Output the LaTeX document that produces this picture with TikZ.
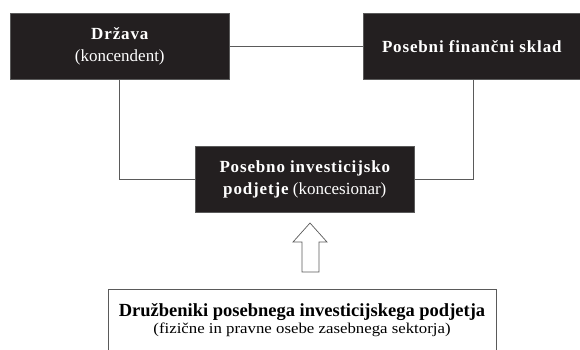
\documentclass[tikz,border=0pt]{standalone}
\usepackage{fontspec}
\setmainfont{Liberation Serif}
\newfontfamily\widefont[FakeStretch=1.12]{Liberation Serif}
\newfontface\spbold[LetterSpace=5]{Liberation Serif Bold}
\definecolor{boxfill}{HTML}{231F20}
\definecolor{linegray}{HTML}{5A5A5A}
\begin{document}
\begin{tikzpicture}[x=1pt,y=-1pt,
  darkbox/.style={fill=boxfill,draw=linegray,line width=0.6pt,text=white,align=center,inner sep=0pt,
    font=\fontsize{17}{21.5}\selectfont},
  conn/.style={draw=linegray,line width=0.8pt},
  whitebox/.style={draw=linegray,line width=0.8pt,fill=white}]
\useasboundingbox (0,0) rectangle (580,349);
\node[darkbox,minimum width=219pt,minimum height=66pt,anchor=north west] (drz) at (10,13)
  {{\spbold Država}\\ (koncendent)};
\node[darkbox,minimum width=217pt,minimum height=66pt,anchor=north west] (skl) at (363,13)
  {{\spbold Posebni finančni sklad}};
\node[darkbox,minimum width=219pt,minimum height=66pt,anchor=north west] (pip) at (195,146)
  {{\spbold Posebno investicijsko}\\[1pt] {\spbold podjetje} (koncesionar)};
\draw[conn] (drz.east) -- (skl.west);
\draw[conn] (drz.south west) ++(109,0) coordinate (a1) -- (a1 |- pip.west) -- (pip.west);
\draw[conn] (skl.south west) ++(110,0) coordinate (b1) -- (b1 |- pip.east) -- (pip.east);
% outline arrow
\coordinate (tip) at (310,223);
\draw[draw=linegray,line width=0.7pt,fill=white] (tip) -- (327,242) -- (319,242) -- (319,272) -- (302,272) -- (302,242) -- (293,242) -- cycle;
\coordinate (bl) at (108,352);
\coordinate (br) at (496,352);
\draw[whitebox] (bl) -- (108,289) -- (496,289) -- (br);
\node[anchor=base,inner sep=0pt,font=\fontsize{18.5}{20}\selectfont\bfseries] (dru1) at (302,316)
  {Družbeniki posebnega investicijskega podjetja};
\node[anchor=base,inner sep=0pt,font=\widefont\fontsize{15}{17}\selectfont] (dru2) at (302,333)
  {(fizične in pravne osebe zasebnega sektorja)};
\end{tikzpicture}
\end{document}
